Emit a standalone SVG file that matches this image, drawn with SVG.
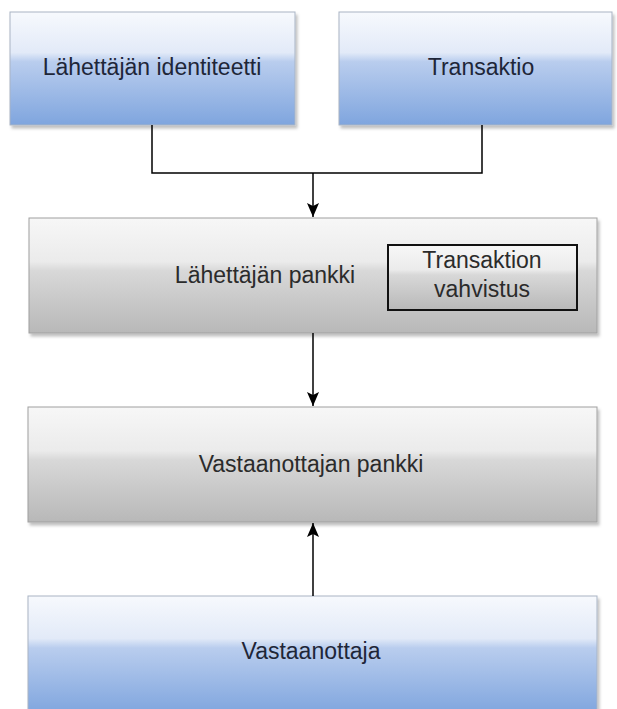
<svg xmlns="http://www.w3.org/2000/svg" width="617" height="709" viewBox="0 0 617 709">
<defs>
<linearGradient id="blue" x1="0" y1="0" x2="0" y2="1">
<stop offset="0" stop-color="#f7f9fd"/>
<stop offset="0.36" stop-color="#e2eaf8"/>
<stop offset="0.44" stop-color="#b9cdee"/>
<stop offset="1" stop-color="#7fa5de"/>
</linearGradient>
<linearGradient id="gray" x1="0" y1="0" x2="0" y2="1">
<stop offset="0" stop-color="#f7f7f7"/>
<stop offset="0.38" stop-color="#ebebeb"/>
<stop offset="0.46" stop-color="#d8d8d8"/>
<stop offset="1" stop-color="#b8b8b8"/>
</linearGradient>
<marker id="arr" viewBox="0 0 14 12" refX="14" refY="6" markerWidth="14" markerHeight="12" markerUnits="userSpaceOnUse" orient="auto">
<path d="M0,0 L14,6 L0,12 L3,6 z" fill="#000"/>
</marker>
<filter id="sh" x="-5%" y="-5%" width="110%" height="115%">
<feDropShadow dx="2" dy="3" stdDeviation="1.5" flood-color="#000" flood-opacity="0.25"/>
</filter>
</defs>
<style>
.b{fill:url(#blue);stroke:#a9b4c4;stroke-width:1;filter:url(#sh)}
.g{fill:url(#gray);stroke:#a0a0a0;stroke-width:1;filter:url(#sh)}
.in{fill:url(#gray);stroke:#111;stroke-width:2}
.t{font-family:"Liberation Sans",Arial,sans-serif;font-size:23px;text-anchor:middle}
.tb{fill:#1e2638}
.tg{fill:#2b2b2b}
.c{fill:none;stroke:#000;stroke-width:1.5}
</style>
<g id="n1">
<rect class="b" x="10" y="12" width="285" height="113"/>
<text class="t tb" x="152" y="75">Lähettäjän identiteetti</text>
</g>
<g id="n2">
<rect class="b" x="339" y="12" width="273" height="113"/>
<text class="t tb" x="481" y="75">Transaktio</text>
</g>
<g id="n3">
<rect class="g" x="29" y="218" width="568" height="115"/>
<text class="t tg" x="265" y="283">Lähettäjän pankki</text>
<rect class="in" x="388" y="245" width="189" height="65"/>
<text class="t tg" x="482" y="268">Transaktion</text>
<text class="t tg" x="482" y="297">vahvistus</text>
</g>
<g id="n4">
<rect class="g" x="28" y="407" width="569" height="115"/>
<text class="t tg" x="311" y="472">Vastaanottajan pankki</text>
</g>
<g id="n5">
<rect class="b" x="28" y="596" width="569" height="118"/>
<text class="t tb" x="311" y="659">Vastaanottaja</text>
</g>
<g id="connectors">
<path class="c" d="M152,125 V173 H482 V125"/>
<path class="c" d="M313,173 V217" marker-end="url(#arr)"/>
<path class="c" d="M313,333 V406" marker-end="url(#arr)"/>
<path class="c" d="M313,596 V523" marker-end="url(#arr)"/>
</g>
</svg>
